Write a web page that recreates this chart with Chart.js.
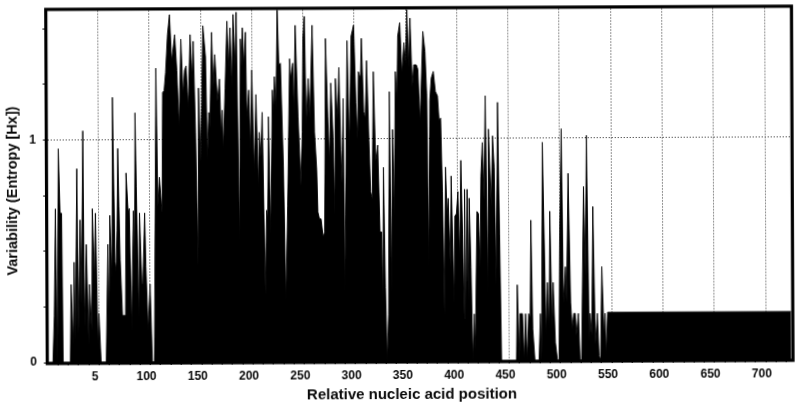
<!DOCTYPE html>
<html>
<head>
<meta charset="utf-8">
<script src="https://cdn.jsdelivr.net/npm/chart.js@4"></script>
<style>
html,body{margin:0;padding:0;background:#fff;overflow:hidden}
canvas{display:block;transform:rotate(-0.25deg);transform-origin:400px 202px}
</style>
</head>
<body>
<canvas id="c" width="800" height="405"></canvas>
<script>
const posA=[1,3,5,6.5,8,9.4,11,12.6,14,15,
22,23,25,26,27,29,30,32,33,35,
36,38,40,41,43,44,46,47,49,50,
52,57];
const valA=[0,0,0,.21,.69,0,.96,.67,.67,0,
0,.35,.08,.45,.1,.87,.13,.64,.26,1.04,
.16,.53,.08,.35,.14,.69,.35,.67,.07,.22,
0,0];
const posB=[59,60,61,63,64,66,67,68,69,70,
71,73,76,77,79,80,82,84,85,86,
87,89,90,92,93,95,96,98,100,102,
104,106.5,108,109.5,112,113,114.5,116,118,120,
122,125,127,129,131,133,134.5,136,138,140,
142,143,145,147,148];
const valB=[.53,.16,.66,.38,1.19,.45,.41,.59,.96,.7,
.46,.21,.21,.85,.67,.69,.14,.68,.43,1.12,
.79,.17,.67,.35,.35,.67,.43,.14,.35,0,
0,1.32,.7,.83,.67,1.21,1.22,1.3,1.47,1.56,
1.35,1.47,1.31,1.05,1.45,1.2,1.31,1.33,1.14,1.47,
1.27,1.44,1.03,.43,1.23];
const posC=[150,152.5,155,156.5,158,159,161,162.5,164,166.5,
168.5,170,171,172,174,176,177.5,179,180.5,182,
184,185,187.5,189,190,191,192.5,194,195,197,
198.5,200,202,204,206,207,208.5,210,212.5,214,
215,216,218,220,221,222,223.5,225,226.5,228,
230.5,232.5,234.5,237,238,240,241,242.5,245,247.5,
249,250,251.5,253,255,256.5,259,261,263,264,
265.5,267,269,270.5,272,274,275.5,277,279,280.5,
281.5,283.5,285,286.5,287.5,289,290,291,293];
const valC=[.9,1.51,1.37,.91,1.12,1.05,1.48,1.23,1.38,1.17,
1.27,1.02,1.13,.95,1.23,1.53,1.32,1.5,1.23,1.56,
1.33,1.57,.52,1.45,1.33,1.5,1.33,1.48,1.1,1.22,
.95,1.31,.85,1.2,.77,1.03,.92,1.12,.3,.68,
.64,1.1,.57,1.22,1.12,1.28,1.13,1.59,1.33,1.34,
.88,.27,.7,1.36,1.27,1.34,1.11,1.51,1.1,.79,
1.03,1.45,1.55,1.06,1.27,1.09,1.51,1.03,.86,.67,
.64,.64,.56,.58,1.45,1.1,.89,1.25,1.02,.66,
1.27,1.09,1.32,.95,.8,1.18,.3,.66,1.44];
const posD=[295,297,299.5,301.5,303,304,306,307,309,310.5,
312,314,315.5,317,318.5,320.5,322.5,324.5,326,327,
328,329.5,331,332.5,334,335.5,337,338.5,340,341.5,
342.5,344.5,346.5,348.5,350,351.5,353,354.5,356.5,358,
360.5,362,364,367,369,370.5,372,373.5,375,377,
379,381,382.5,384,385.5,387,388.5,390,391,393,
394,396.5,397.5,399,400.5,402,403.5,405,406.5,407,
408,409.5,410.5,411.5,413,414.5,416,417,419,420.5,
422,423,424.5,426,427.5,429.5,430.5,433,434.5,436,
437.5,439.5,441,442.5];
const valD=[.96,1.46,1.51,1.16,1.0,1.3,1.27,1.45,1.12,1.09,
1.35,.99,.76,.73,1.3,.9,.97,.58,.58,.24,
.87,.33,0,.21,1.21,.31,1.04,.65,1.3,1.17,
1.46,1.52,1.29,1.43,1.34,1.58,1.32,1.54,1.23,1.33,
1.33,1.31,1.07,1.48,1.39,1.2,.42,1.17,1.27,1.3,
1.21,1.19,1.08,1.09,.76,.21,.87,.65,.73,.42,
.83,.26,.65,.66,.76,.45,.9,.57,.19,.77,
.19,.77,.27,.73,.42,0,.21,.05,.67,.66,
.42,.83,.98,.72,1.19,.29,1.04,.69,1.01,.87,
.34,1.16,.57,0];
const posE=[457,458,460,460.5,463,464.5,466,467.5,469,470.5,
471.5,473,475,479,480.5,481.5,483,486,487.5,489,
490,492,493,495,497,498.5,499.5,501.5,503,505,
506,508,510,511.5,513,514.5,515.5,517.5,519,520.5,
523,524.5,526,528,529,530.5,532,534,536,537.5,
539,540.5,542.5,543.5,544.5,546,725];
const valE=[0,.34,0,.21,.21,0,.21,0,.21,.19,
.63,.14,0,0,.21,0,.98,.11,.35,.14,
.67,.14,.35,.08,0,0,.53,1.04,.26,.42,
.26,.84,.26,.14,.21,.21,.11,.21,0,0,
.78,.38,1.01,.08,.21,.11,.69,.07,.21,.02,
0,.42,.11,.21,.02,.215,.215];

const positions=[...posA,...posB,...posC,...posD,...posE];
const entropy=[...valA,...valB,...valC,...valD,...valE];
const labelledY=[0,1];
const xTitle="Relative nucleic acid position    ";
const yTitle="Variability (Entropy [Hx])  ";
const ink="#0a0a0a";
const fontName="'Liberation Sans', Arial, sans-serif";

const frame={id:'frame',afterDatasetsDraw(ch){
  const a=ch.chartArea,c=ch.ctx;
  c.save();c.strokeStyle="#000";c.lineWidth=3.2;
  c.strokeRect(a.left-1.6,a.top-1.6,a.right-a.left+3.2,a.bottom-a.top+2.6);
  c.restore();
}};

new Chart(document.getElementById('c'),{
  type:'line',
  data:{datasets:[{
    data:positions.map((p,i)=>({x:p,y:entropy[i]})),
    borderColor:'#000',backgroundColor:'#000',borderWidth:0.9,
    fill:'origin',pointRadius:0,tension:0
  }]},
  plugins:[frame],
  options:{
    responsive:false,animation:false,
    layout:{padding:{top:9.5,right:9.3,left:0,bottom:0}},
    plugins:{legend:{display:false},tooltip:{enabled:false},title:{display:false}},
    scales:{
      x:{type:'linear',min:1,max:725,
        afterFit(s){s.height=44;s.paddingLeft=0;s.paddingRight=0;},
        border:{display:false,dash:[1,2]},
        grid:{color:c=>c.tick&&c.tick.value%50===0?'#222':'rgba(0,0,0,0)',lineWidth:1,tickColor:'#000',tickLength:3,tickWidth:1},
        ticks:{stepSize:10,autoSkip:false,maxRotation:0,minRotation:0,includeBounds:false,labelOffset:-4,padding:4,color:ink,
          font:{family:fontName,size:12,weight:'bold'},
          callback:v=>v===50?"5":(v%50===0?String(v):"")},
        title:{display:true,text:xTitle,color:ink,font:{family:fontName,size:15,weight:'bold'},padding:{top:0,bottom:1}}
      },
      y:{min:0,max:1.579,
        afterFit(s){s.width=48.2;s.paddingTop=0;s.paddingBottom=0;},
        border:{display:false,dash:[1,2]},
        grid:{color:c=>c.tick&&c.tick.value===1?'#222':'rgba(0,0,0,0)',lineWidth:1,tickColor:'#000',tickLength:5,tickWidth:1},
        ticks:{stepSize:.25,autoSkip:false,includeBounds:false,padding:7,color:ink,
          font:{family:fontName,size:12,weight:'bold'},
          callback:v=>labelledY.includes(v)?String(v):""},
        title:{display:true,text:yTitle,color:ink,font:{family:fontName,size:14.5,weight:'bold'},padding:{top:4,bottom:0}}
      }
    }
  }
});
</script>
</body>
</html>
